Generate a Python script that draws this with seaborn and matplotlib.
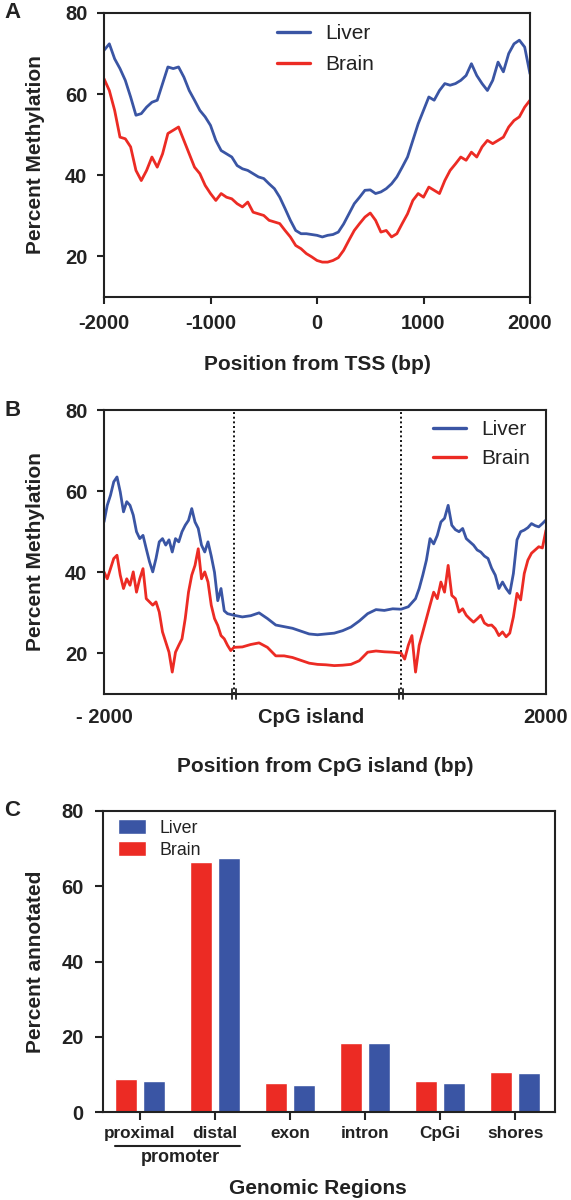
import matplotlib
matplotlib.use('Agg')
import matplotlib.pyplot as plt
import numpy as np
import pandas as pd
import seaborn as sns

BLUE = '#3a55a4'
RED = '#ec2b24'

# --- panel A: methylation around TSS (every 50 bp) ---
tss_pos = np.arange(-2000, 2001, 50)
tss_liver = [70.8, 72.4, 68.7, 66.3, 63.4, 59.3, 54.8, 55.2, 56.8, 58.0, 58.5,
             62.6, 66.7, 66.3, 66.7, 64.2, 60.9, 58.5, 56.0, 54.4, 52.3,
             48.6, 46.1, 45.3, 44.5, 42.4, 41.6, 41.2, 40.4, 39.6, 39.2,
             37.9, 36.7, 34.6, 31.8, 28.9, 26.4, 25.6, 25.6, 25.4, 25.2,
             24.8, 25.2, 25.4, 26.0, 28.0, 30.5, 33.0, 34.6, 36.3, 36.4,
             35.5, 35.9, 36.7, 37.9, 39.6, 42.0, 44.5, 48.6, 52.7, 56.0,
             59.3, 58.5, 60.9, 62.6, 62.2, 62.6, 63.4, 64.6, 67.5, 64.6,
             62.6, 60.9, 63.4, 67.9, 65.5, 70.0, 72.4, 73.3, 71.6, 65.0]
tss_brain = [63.8, 60.9, 56.0, 49.4, 49.0, 47.0, 41.2, 38.7, 41.2, 44.5, 42.0,
             45.3, 50.3, 51.1, 51.9, 48.6, 45.3, 42.0, 40.4, 37.5, 35.5,
             33.8, 35.5, 34.6, 34.2, 33.0, 32.2, 33.4, 30.9, 30.5, 30.1,
             28.9, 28.5, 28.1, 26.4, 24.8, 22.7, 21.9, 20.7, 19.9, 19.0,
             18.6, 18.6, 19.0, 19.7, 21.5, 24.0, 26.4, 28.1, 29.7, 30.7,
             28.9, 26.0, 26.4, 24.8, 25.6, 28.1, 30.5, 33.8, 35.5, 34.6,
             37.1, 36.3, 35.5, 38.7, 41.2, 42.8, 44.5, 43.7, 45.7, 44.5,
             47.0, 48.6, 47.8, 48.6, 49.4, 51.9, 53.5, 54.4, 56.8, 58.5]

# --- panel B: methylation around CpG islands ---
left_pos = np.arange(-2000, 0, 50)           # bp upstream of island
left_liver = [52.4, 56.5, 59.0, 62.3, 63.5, 59.8, 54.9, 57.4, 56.5, 54.1,
              50.0, 48.3, 49.1, 45.8, 42.6, 40.1, 43.4, 47.5, 48.3, 46.7,
              48.0, 45.0, 48.3, 47.5, 50.0, 51.6, 52.8, 55.7, 52.4, 50.8,
              46.7, 45.0, 47.5, 44.0, 40.0, 33.0, 36.0, 30.5, 29.8, 29.6]
left_brain = [40.1, 38.4, 40.9, 43.4, 44.2, 39.3, 36.0, 38.4, 36.8, 40.1,
              35.1, 38.4, 40.9, 33.5, 32.7, 31.9, 32.7, 30.2, 25.3, 22.8,
              20.3, 15.4, 20.3, 22.0, 23.6, 28.6, 35.1, 39.3, 41.7, 45.8,
              38.4, 40.1, 37.6, 31.9, 28.6, 26.9, 24.4, 23.6, 22.0, 20.7]
island_frac = [0.0, 0.05, 0.1, 0.15, 0.2, 0.25, 0.3, 0.35, 0.4, 0.45, 0.5,
               0.55, 0.6, 0.65, 0.7, 0.75, 0.8, 0.85, 0.9, 0.95, 1.0]
island_liver = [29.4, 29.0, 29.3, 30.0, 28.6, 27.0, 26.6, 26.2, 25.5, 24.8, 24.6,
                24.8, 25.0, 25.6, 26.5, 28.0, 29.8, 30.8, 30.6, 31.0, 30.9]
island_brain = [21.5, 21.6, 22.2, 22.6, 21.5, 19.4, 19.4, 19.0, 18.3, 17.6, 17.3,
                17.2, 17.0, 17.1, 17.3, 18.2, 20.3, 20.6, 20.4, 20.3, 20.1]
right_pos = np.arange(50, 2001, 50)          # bp downstream of island
right_liver = [31.2, 31.5, 32.5, 33.5, 36.0, 39.3, 43.0, 48.3, 47.0, 49.1,
               52.4, 53.3, 56.5, 51.6, 50.5, 50.0, 50.8, 48.3, 47.5, 46.7,
               45.5, 45.0, 44.0, 43.4, 41.0, 39.3, 36.0, 37.6, 36.0, 34.8,
               39.7, 48.0, 50.0, 50.4, 51.0, 52.0, 51.5, 51.2, 52.0, 52.9]
right_brain = [18.6, 22.0, 24.4, 15.4, 22.0, 25.3, 28.6, 31.9, 35.1, 33.5,
               37.6, 35.1, 41.7, 34.3, 33.5, 30.2, 31.0, 29.4, 28.5, 27.7,
               28.5, 29.4, 27.5, 26.9, 27.0, 26.1, 24.4, 25.3, 24.1, 25.0,
               29.0, 34.8, 33.2, 39.7, 43.0, 44.7, 45.5, 46.3, 46.0, 50.4]

# --- panel C: genomic annotation ---
regions = ['proximal', 'distal', 'exon', 'intron', 'CpGi', 'shores']
brain_pct = [8.7, 66.4, 7.8, 18.4, 8.2, 10.5]
liver_pct = [8.3, 67.4, 7.2, 18.3, 7.6, 10.3]

sns.set_theme(style='ticks')
plt.rcParams['font.family'] = ['Liberation Sans', 'DejaVu Sans']
plt.rcParams.update({
    'font.weight': 'bold',
    'axes.labelweight': 'bold',
    'axes.linewidth': 1.5,
    'axes.edgecolor': '#222222',
    'xtick.major.width': 1.5,
    'ytick.major.width': 1.5,
    'xtick.color': '#222222',
    'ytick.color': '#222222',
    'text.color': '#222222',
    'axes.labelcolor': '#222222',
})

W, H = 571, 1200


def box(l, t, r, b):
    return [l / W, 1 - b / H, (r - l) / W, (b - t) / H]


fig = plt.figure(figsize=(5.71, 12), dpi=100)
ax_a = fig.add_axes(box(104, 13, 530, 297))
ax_b = fig.add_axes(box(104, 410, 546, 694))
ax_c = fig.add_axes(box(103, 811, 555, 1112))

pal = {'Liver': BLUE, 'Brain': RED}
leg_font = {'size': 15, 'weight': 'normal'}

# ---------- A ----------
n = len(tss_pos)
df_a = pd.DataFrame({'pos': np.concatenate([tss_pos, tss_pos]),
                     'pct': tss_liver + tss_brain,
                     'tissue': ['Liver'] * n + ['Brain'] * n})
sns.lineplot(data=df_a, x='pos', y='pct', hue='tissue', hue_order=['Liver', 'Brain'],
             palette=pal, estimator=None, linewidth=2.0, ax=ax_a)
ax_a.set_xlim(-2000, 2000)
ax_a.set_ylim(10, 80)
ax_a.set_xticks([-2000, -1000, 0, 1000, 2000], ['-2000', '-1000', '0', '1000', '2000'])
ax_a.set_yticks([20, 40, 60, 80])
ax_a.tick_params(direction='out', length=5, pad=7, labelsize=14.5)
ax_a.set_xlabel('Position from TSS (bp)', fontsize=15, va='center')
ax_a.set_ylabel('Percent Methylation', fontsize=15, va='center')
ax_a.xaxis.set_label_coords(0.5, -(364 - 297) / 284)
ax_a.yaxis.set_label_coords((36 - 104) / 426, 0.5)
h, l = ax_a.get_legend_handles_labels()
ax_a.legend(h, l, loc='upper left', bbox_to_anchor=((277 - 104) / 426, 0.962),
            frameon=False, prop=leg_font, handlelength=1.6, handletextpad=0.7,
            labelspacing=0.6, borderpad=0, borderaxespad=0)
for line in ax_a.get_legend().get_lines():
    line.set_linewidth(2.4)

# ---------- B ----------
ISLAND_W = 2570      # width given to the island section
RIGHT_SCALE = 1.115  # right flank drawn a little wider
x_b = np.concatenate([left_pos, np.array(island_frac) * ISLAND_W,
                      ISLAND_W + right_pos * RIGHT_SCALE])
liver_b = left_liver + island_liver + right_liver
brain_b = left_brain + island_brain + right_brain
m = len(x_b)
df_b = pd.DataFrame({'pos': np.concatenate([x_b, x_b]),
                     'pct': liver_b + brain_b,
                     'tissue': ['Liver'] * m + ['Brain'] * m})
sns.lineplot(data=df_b, x='pos', y='pct', hue='tissue', hue_order=['Liver', 'Brain'],
             palette=pal, estimator=None, linewidth=2.0, ax=ax_b)
x_right = ISLAND_W + 2000 * RIGHT_SCALE
ax_b.set_xlim(-2000, x_right)
ax_b.set_ylim(10, 80)
for xv in (0, ISLAND_W):
    ax_b.axvline(xv, color='#111111', ls=(0, (1, 1.4)), lw=1.4, zorder=1)
    for dx in (-25, 25):
        ax_b.plot([xv + dx, xv + dx], [-0.018, 0.018], color='#222222', lw=1.3,
                  transform=ax_b.get_xaxis_transform(), clip_on=False)
ax_b.set_xticks([-2000, 1180, x_right], ['- 2000', 'CpG island', '2000'])
ax_b.set_yticks([20, 40, 60, 80])
ax_b.tick_params(axis='y', direction='out', length=5, pad=7, labelsize=14.5)
ax_b.tick_params(axis='x', length=0, pad=10, labelsize=14.5)
ax_b.set_xlabel('Position from CpG island (bp)', fontsize=15, va='center')
ax_b.set_ylabel('Percent Methylation', fontsize=15, va='center')
ax_b.xaxis.set_label_coords(0.5, -(767 - 694) / 284)
ax_b.yaxis.set_label_coords((36 - 104) / 442, 0.5)
h, l = ax_b.get_legend_handles_labels()
ax_b.legend(h, l, loc='upper left', bbox_to_anchor=((433 - 104) / 442, 0.965),
            frameon=False, prop=leg_font, handlelength=1.6, handletextpad=0.7,
            labelspacing=0.5, borderpad=0, borderaxespad=0)
for line in ax_b.get_legend().get_lines():
    line.set_linewidth(2.4)

# ---------- C ----------
df_c = pd.DataFrame({'region': regions * 2,
                     'pct': brain_pct + liver_pct,
                     'tissue': ['Brain'] * len(regions) + ['Liver'] * len(regions)})
sns.barplot(data=df_c, x='region', y='pct', hue='tissue', hue_order=['Brain', 'Liver'],
            palette=pal, saturation=1, width=0.75, gap=0.22, ax=ax_c, legend=False)
ax_c.set_xlim(-0.49, 5.53)
ax_c.set_ylim(0, 80)
ax_c.set_yticks([0, 20, 40, 60, 80])
ax_c.tick_params(axis='y', direction='out', length=6, pad=8, labelsize=14.5)
ax_c.tick_params(axis='x', direction='out', length=6, pad=4, labelsize=12.3)
ax_c.set_xlabel('Genomic Regions', fontsize=15, va='center')
ax_c.set_ylabel('Percent annotated', fontsize=15, va='center')
ax_c.xaxis.set_label_coords((318 - 103) / 452, -(1188 - 1112) / 301)
ax_c.yaxis.set_label_coords((36 - 103) / 452, 0.5)
brain_bars, liver_bars = ax_c.containers[0], ax_c.containers[1]
ax_c.legend([liver_bars, brain_bars], ['Liver', 'Brain'], loc='upper left',
            bbox_to_anchor=((118 - 103) / 452, 0.972), frameon=False,
            prop={'size': 12.8, 'weight': 'normal'}, handlelength=1.6,
            handleheight=0.9, handletextpad=0.75, labelspacing=0.25,
            borderpad=0, borderaxespad=0)
# promoter bracket under proximal/distal
fig.add_artist(plt.Line2D([115 / W, 240 / W], [1 - 1146 / H, 1 - 1146 / H],
                          color='#222222', lw=1.5))
fig.text(180 / W, 1 - 1158 / H, 'promoter', ha='center', va='center',
         fontsize=13, fontweight='bold')

for ax in (ax_a, ax_b, ax_c):
    for s in ax.spines.values():
        s.set_visible(True)
        s.set_linewidth(1.5)

for lab, y in (('A', 13), ('B', 410), ('C', 811)):
    fig.text(4 / W, 1 - y / H, lab, ha='left', va='center', fontsize=16,
             fontweight='bold')

fig.savefig('out.png', dpi=100)
